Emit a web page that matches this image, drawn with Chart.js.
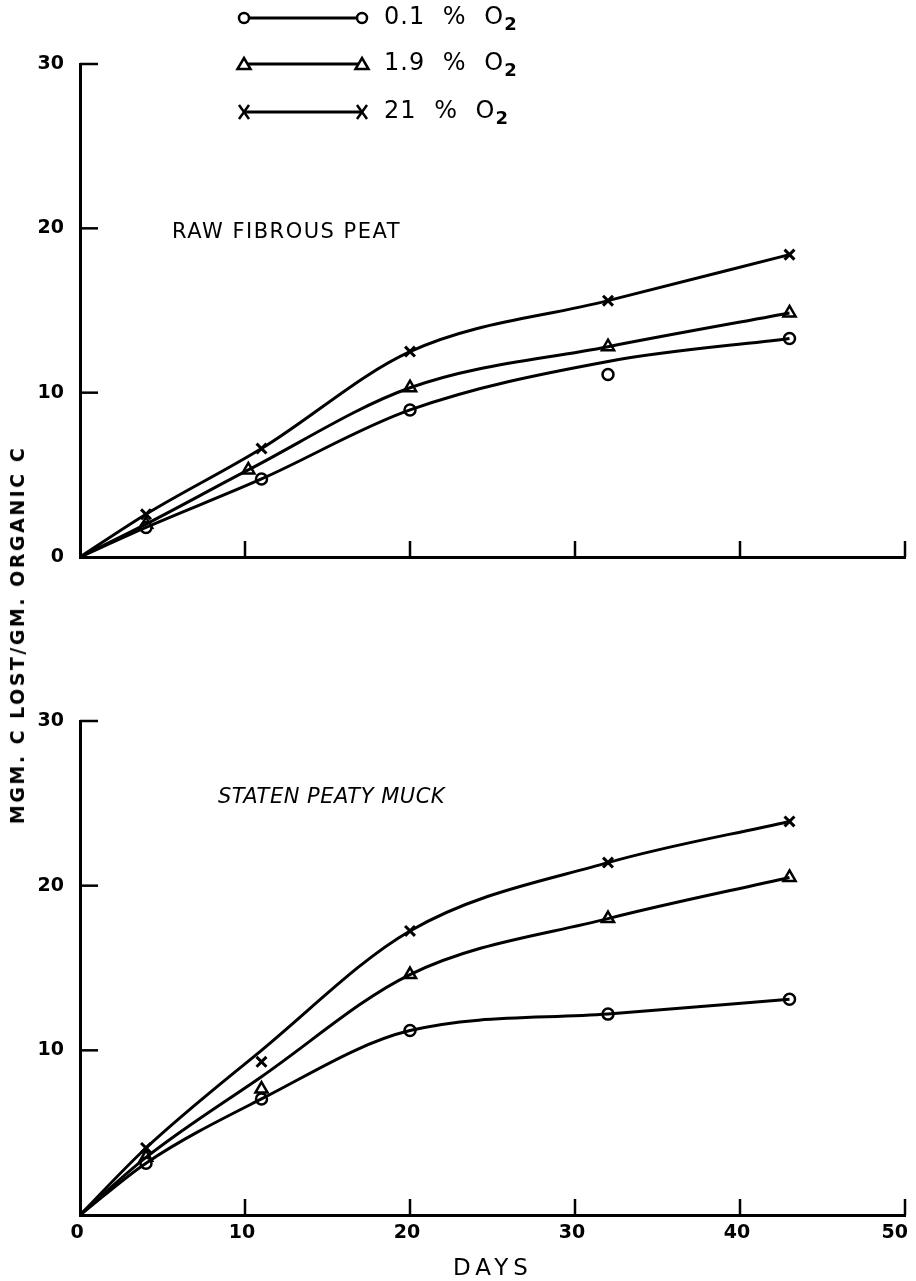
<!DOCTYPE html>
<html>
<head>
<meta charset="utf-8">
<script src="https://cdn.jsdelivr.net/npm/chart.js@4.4.1/dist/chart.umd.min.js"></script>
<style>
  body { margin: 0; background: #fff; width: 916px; height: 1281px; position: relative; overflow: hidden;
         font-family: 'DejaVu Sans', sans-serif; color: #000; }
  canvas { position: absolute; left: 0; }
  #top { top: 0; }
  #bot { top: 640px; }
  .txt { position: absolute; white-space: nowrap; }
  .leg { font-size: 24px; left: 384px; transform: translateY(-50%); letter-spacing: 1px; word-spacing: 9px; }
  .leg sub { font-size: 18px; vertical-align: -6px; font-weight: bold; }
  .title { font-size: 21px; letter-spacing: 1.5px; transform: translateY(-50%); }
  .ylab { left: 17px; top: 635px; transform: translate(-50%, -50%) rotate(-90deg); font-weight: bold;
          font-size: 19px; letter-spacing: 2.5px; }
  .xlab { left: 493px; top: 1267px; transform: translate(-50%, -50%); font-size: 23px; letter-spacing: 5px; }
</style>
</head>
<body>
<canvas id="top" width="916" height="600"></canvas>
<canvas id="bot" width="916" height="641"></canvas>

<div class="txt leg" style="top:18px">0.1 % O<sub>2</sub></div>
<div class="txt leg" style="top:64px">1.9 % O<sub>2</sub></div>
<div class="txt leg" style="top:112px">21 % O<sub>2</sub></div>
<div class="txt title" style="left:172px;top:231px">RAW FIBROUS PEAT</div>
<div class="txt title" style="left:218px;top:796px;font-style:italic;letter-spacing:0.5px">STATEN PEATY MUCK</div>
<div class="txt ylab">MGM. C LOST/GM. ORGANIC C</div>
<div class="txt xlab">DAYS</div>

<script>
// ── Data ─────────────────────────────────────────────────────────────────────
// sampling days (the drawn curves start at the origin)
const curveDays    = [0, 4, 11, 20, 32, 43];
const curveDaysTri = [0, 4, 10.2, 20, 32, 43];
const markDays     = [4, 11, 20, 32, 43];
const markDaysTri  = [4, 10.2, 20, 32, 43];

// Raw fibrous peat — smoothed curves and plotted points
const peatCurve01 = [0, 1.8, 4.75, 8.95, 11.9, 13.3];
const peatCurve19 = [0, 2.0, 5.3, 10.3, 12.8, 14.85];
const peatCurve21 = [0, 2.6, 6.6, 12.5, 15.6, 18.4];
const peatPts01   = [1.8, 4.75, 8.95, 11.1, 13.3];
const peatPts19   = [2.0, 5.3, 10.3, 12.8, 14.85];
const peatPts21   = [2.6, 6.6, 12.5, 15.6, 18.4];

// Staten peaty muck — smoothed curves and plotted points
const muckCurve01 = [0, 3.15, 7.05, 11.2, 12.2, 13.1];
const muckCurve19 = [0, 3.5, 8.4, 14.6, 18.0, 20.5];
const muckCurve21 = [0, 4.07, 10.0, 17.25, 21.4, 23.9];
const muckPts01   = [3.15, 7.05, 11.2, 12.2, 13.1];
const muckPts19   = [3.5, 7.65, 14.6, 18.0, 20.5];
const muckPts21   = [4.07, 9.3, 17.25, 21.4, 23.9];

const xTickVals  = [10, 20, 30, 40, 50];
const xLabelVals = [0, 10, 20, 30, 40, 50];
const yTickVals  = [10, 20, 30];

// ── Helpers ──────────────────────────────────────────────────────────────────
const pts = (xs, ys) => ys.map((y, i) => ({ x: xs[i], y }));

const STYLE = {
    circle:   { pointStyle: "circle",   pointRadius: 5.5, pointBorderWidth: 2.5 },
    triangle: { pointStyle: "triangle", pointRadius: 7,   pointBorderWidth: 2.5 },
    crossRot: { pointStyle: "crossRot", pointRadius: 7,   pointBorderWidth: 3 },
};

function curve(xs, ys) {
    return { data: pts(xs, ys), showLine: true, borderColor: "#000", borderWidth: 3,
             pointRadius: 0, cubicInterpolationMode: "monotone" };
}
function marks(xs, ys, style) {
    return { data: pts(xs, ys), showLine: false, borderColor: "#000", backgroundColor: "#fff",
             pointBackgroundColor: "#fff", pointBorderColor: "#000", ...STYLE[style] };
}

const tickFont = { family: "'DejaVu Sans', sans-serif", size: 19, weight: "bold" };

// inward tick marks on both axes (+ x labels on the bottom panel; last one kept inside the page)
const innerTicks = {
    id: "innerTicks",
    afterDraw(chart, args, opts) {
        const { ctx, chartArea: a, scales: { x, y } } = chart;
        ctx.save();
        ctx.strokeStyle = "#000";
        ctx.lineWidth = 2.5;
        xTickVals.forEach((v) => {
            const px = x.getPixelForValue(v);
            ctx.beginPath(); ctx.moveTo(px, a.bottom); ctx.lineTo(px, a.bottom - 16); ctx.stroke();
        });
        yTickVals.forEach((v) => {
            const py = y.getPixelForValue(v);
            ctx.beginPath(); ctx.moveTo(a.left, py); ctx.lineTo(a.left + 18, py); ctx.stroke();
        });
        if (opts.xLabels) {
            ctx.fillStyle = "#000";
            ctx.font = `bold ${tickFont.size}px ${tickFont.family}`;
            ctx.textBaseline = "middle";
            xLabelVals.forEach((v, i) => {
                const last = i === xLabelVals.length - 1;
                ctx.textAlign = last ? "right" : "center";
                ctx.fillText(String(v), x.getPixelForValue(v) + (last ? 3 : -3), a.bottom + 18);
            });
        }
        ctx.restore();
    },
};

// legend sample lines with markers at both ends (top canvas only)
function drawMark(ctx, style, x, y) {
    ctx.beginPath();
    if (style === "circle") {
        ctx.arc(x, y, 5, 0, Math.PI * 2);
        ctx.fillStyle = "#fff"; ctx.fill(); ctx.stroke();
    } else if (style === "triangle") {
        ctx.moveTo(x, y - 6); ctx.lineTo(x + 6.5, y + 5); ctx.lineTo(x - 6.5, y + 5); ctx.closePath();
        ctx.fillStyle = "#fff"; ctx.fill(); ctx.stroke();
    } else {
        ctx.moveTo(x - 5, y - 7); ctx.lineTo(x + 5, y + 7);
        ctx.moveTo(x + 5, y - 7); ctx.lineTo(x - 5, y + 7);
        ctx.stroke();
    }
}
const legendRows = [
    { y: 18,  style: "circle" },
    { y: 64,  style: "triangle" },
    { y: 112, style: "crossRot" },
];
const legendPlugin = {
    id: "legendLines",
    afterDraw(chart) {
        const ctx = chart.ctx;
        ctx.save();
        ctx.strokeStyle = "#000";
        legendRows.forEach((r) => {
            ctx.lineWidth = 3;
            ctx.beginPath(); ctx.moveTo(244, r.y); ctx.lineTo(362, r.y); ctx.stroke();
            ctx.lineWidth = 2.5;
            drawMark(ctx, r.style, 244, r.y);
            drawMark(ctx, r.style, 362, r.y);
        });
        ctx.restore();
    },
};

function panelConfig(datasets, opts) {
    return {
        type: "scatter",
        data: { datasets },
        options: {
            responsive: false,
            animation: false,
            layout: { padding: { left: 0, right: 11, top: opts.top, bottom: 0 } },
            plugins: { legend: { display: false }, tooltip: { enabled: false },
                       innerTicks: { xLabels: opts.showX } },
            scales: {
                x: {
                    type: "linear", min: 0, max: 50,
                    grid: { display: false, drawTicks: false },
                    border: { display: true, color: "#000", width: 3 },
                    ticks: { display: false, stepSize: 10 },
                    afterFit: (s) => { s.height = opts.xHeight; s.paddingLeft = 0; s.paddingRight = 0; },
                },
                y: {
                    type: "linear", min: 0, max: 30,
                    grid: { display: false, drawTicks: false },
                    border: { display: true, color: "#000", width: 3 },
                    ticks: { stepSize: 10, color: "#000", font: tickFont, padding: 16,
                             callback: (v) => (opts.hideZero && v === 0 ? "" : v) },
                    afterFit: (s) => { s.width = 80; s.paddingTop = 0; s.paddingBottom = 0; },
                },
            },
        },
        plugins: opts.plugins,
    };
}

new Chart(document.getElementById("top"), panelConfig([
    curve(curveDays, peatCurve01),
    curve(curveDaysTri, peatCurve19),
    curve(curveDays, peatCurve21),
    marks(markDays, peatPts01, "circle"),
    marks(markDaysTri, peatPts19, "triangle"),
    marks(markDays, peatPts21, "crossRot"),
], { top: 64, xHeight: 43, showX: false, hideZero: false, plugins: [innerTicks, legendPlugin] }));

new Chart(document.getElementById("bot"), panelConfig([
    curve(curveDays, muckCurve01),
    curve(curveDays, muckCurve19),
    curve(curveDays, muckCurve21),
    marks(markDays, muckPts01, "circle"),
    marks(markDays, muckPts19, "triangle"),
    marks(markDays, muckPts21, "crossRot"),
], { top: 81, xHeight: 66, showX: true, hideZero: true, plugins: [innerTicks] }));
</script>
</body>
</html>
